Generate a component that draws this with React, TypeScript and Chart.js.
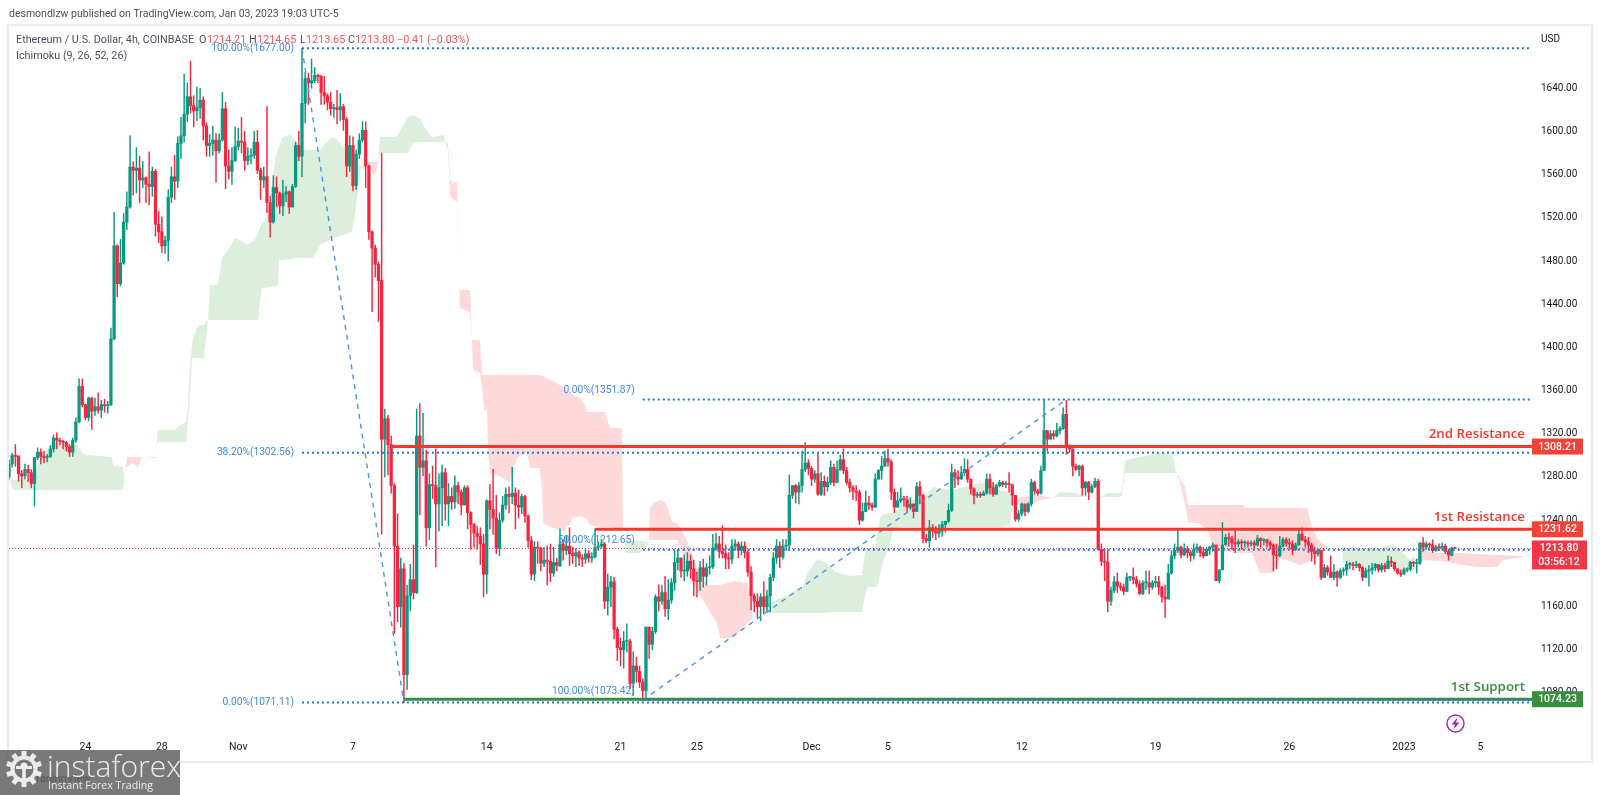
import React, { useEffect, useRef } from "react";
import { Chart, registerables } from "chart.js";

Chart.register(...registerables);

const firstOpen = 1280;
const closes = [
  1292,1300,1299,1283,1281,1287,1284,1274,1298,1303,
  1299,1298,1299,1306,1316,1314,1313,1312,1308,1303,
  1314,1331,1364,1347,1335,1353,1341,1345,1342,1347,
  1346,1347,1408,1494,1459,1478,1516,1530,1567,1564,
  1566,1555,1557,1551,1549,1563,1514,1507,1494,1499,
  1539,1558,1554,1589,1596,1616,1632,1624,1619,1622,
  1629,1605,1587,1589,1592,1582,1592,1621,1568,1563,
  1573,1586,1591,1590,1573,1577,1578,1590,1564,1555,
  1558,1534,1516,1548,1543,1531,1542,1544,1530,1549,
  1587,1577,1626,1649,1645,1647,1652,1651,1636,1633,
  1627,1621,1622,1620,1623,1611,1568,1587,1550,1579,
  1592,1601,1568,1507,1492,1477,1462,1315,1334,1310,
  1272,1216,1160,1195,1097,1170,1185,1173,1318,1289,
  1295,1233,1273,1272,1255,1270,1284,1255,1262,1257,
  1272,1266,1254,1270,1247,1236,1228,1225,1218,1190,
  1258,1250,1242,1214,1240,1254,1264,1262,1265,1254,
  1252,1262,1244,1221,1190,1215,1214,1200,1203,1202,
  1191,1201,1198,1218,1212,1216,1209,1207,1210,1205,
  1204,1209,1205,1206,1215,1216,1218,1165,1178,1183,
  1139,1122,1120,1128,1128,1089,1105,1100,1090,1082,
  1141,1125,1137,1169,1165,1173,1158,1166,1182,1201,
  1205,1193,1193,1202,1195,1184,1183,1196,1188,1196,
  1197,1214,1218,1211,1209,1205,1204,1216,1218,1212,
  1216,1210,1192,1170,1165,1160,1169,1160,1170,1187,
  1205,1216,1206,1216,1217,1263,1272,1266,1272,1287,
  1293,1288,1278,1283,1264,1276,1271,1275,1289,1275,
  1287,1296,1286,1275,1270,1267,1266,1240,1248,1256,
  1254,1252,1278,1286,1290,1297,1294,1266,1252,1258,
  1260,1259,1252,1255,1248,1271,1263,1223,1221,1233,
  1230,1228,1230,1236,1239,1249,1284,1280,1278,1284,
  1287,1278,1269,1263,1264,1263,1265,1278,1270,1264,
  1272,1275,1273,1274,1273,1263,1241,1246,1255,1248,
  1255,1275,1267,1265,1286,1323,1315,1320,1318,1323,
  1325,1338,1309,1306,1290,1287,1290,1270,1275,1266,
  1271,1276,1213,1202,1201,1165,1175,1183,1179,1178,
  1174,1187,1187,1185,1181,1172,1182,1182,1178,1182,
  1183,1178,1169,1167,1191,1207,1212,1215,1208,1213,
  1210,1207,1213,1215,1210,1207,1213,1215,1217,1184,
  1194,1217,1224,1223,1219,1218,1220,1219,1219,1218,
  1219,1217,1223,1221,1222,1219,1217,1208,1207,1216,
  1222,1219,1218,1213,1217,1227,1222,1220,1217,1211,
  1209,1212,1187,1196,1192,1187,1192,1187,1193,1194,
  1199,1199,1198,1199,1196,1187,1193,1194,1196,1199,
  1194,1198,1195,1202,1201,1195,1191,1190,1194,1195,
  1201,1200,1200,1219,1215,1218,1217,1212,1215,1214.7,
  1216,1211,1207.6,1214.21,1213.8,
];
const highs = [
  1296,1302,1310,1300,1286,1292,1291,1287,1298,1307,
  1306,1304,1301,1309,1319,1321,1316,1314,1313,1310,
  1316,1335,1371,1371,1347,1354,1354,1353,1358,1351,
  1352,1350,1418,1525,1495,1500,1524,1544,1596,1572,
  1585,1577,1572,1558,1581,1567,1565,1526,1521,1503,
  1546,1567,1578,1595,1613,1653,1645,1665,1633,1641,
  1640,1632,1608,1597,1605,1598,1598,1636,1627,1583,
  1585,1604,1603,1613,1600,1585,1584,1600,1601,1566,
  1567,1623,1540,1559,1558,1544,1555,1549,1545,1551,
  1590,1600,1677,1655,1654,1667,1659,1653,1652,1651,
  1635,1636,1625,1638,1635,1625,1613,1596,1595,1583,
  1598,1609,1609,1569,1508,1495,1479,1580,1343,1337,
  1318,1274,1246,1205,1200,1180,1199,1217,1343,1348,
  1339,1305,1283,1290,1306,1283,1291,1288,1274,1270,
  1281,1275,1268,1272,1272,1248,1237,1234,1233,1227,
  1259,1273,1287,1263,1247,1262,1270,1271,1289,1270,
  1268,1264,1263,1245,1225,1220,1220,1215,1215,1216,
  1218,1215,1205,1232,1222,1225,1233,1215,1214,1212,
  1208,1213,1212,1210,1232,1220,1222,1219,1190,1188,
  1187,1141,1131,1137,1144,1130,1118,1113,1105,1093,
  1141,1140,1141,1171,1180,1180,1188,1185,1186,1212,
  1213,1205,1208,1210,1208,1203,1192,1202,1204,1200,
  1207,1227,1228,1225,1235,1217,1210,1222,1222,1220,
  1220,1220,1212,1197,1172,1172,1172,1183,1175,1190,
  1210,1222,1220,1222,1222,1282,1272,1273,1275,1304,
  1312,1296,1290,1286,1301,1284,1281,1280,1295,1292,
  1295,1300,1306,1289,1278,1272,1272,1268,1256,1267,
  1262,1256,1283,1287,1299,1304,1306,1296,1269,1266,
  1270,1262,1262,1261,1255,1275,1276,1264,1227,1240,
  1236,1234,1236,1239,1239,1255,1292,1287,1286,1290,
  1297,1296,1278,1270,1266,1266,1267,1283,1283,1275,
  1273.5,1277,1276,1276,1284,1273,1263,1249,1256,1255,
  1256,1278,1276,1269,1290,1352,1323,1323,1323,1330,
  1327,1344,1351,1310,1306,1292,1291,1291,1276,1276,
  1273,1279,1278,1218,1213,1212,1178,1188,1191,1182,
  1181,1191,1188,1196,1188,1184,1184,1193,1193,1184,
  1188,1188,1179,1180,1199,1212,1218,1231,1216,1218,
  1216,1212,1218,1218,1216,1215,1215,1216,1219,1216,
  1194,1238,1227,1228,1225,1230,1222,1222,1221,1221,
  1221,1221,1226,1224,1223,1222,1221,1218,1218,1225,
  1224,1224,1223,1221,1219,1232,1233,1225,1224,1219,
  1215,1213,1212,1199,1198,1207,1199,1193,1195,1196,
  1202,1201,1201,1202,1200,1197,1196,1198,1200,1200,
  1199,1200,1200,1207,1206,1201,1195,1194,1196,1196,
  1202,1202,1204,1219,1224,1220,1219,1222,1217,1218,
  1219,1218,1213,1215,1214.65,
];
const lows = [
  1278,1289,1290,1276,1270,1278,1276,1270,1253,1296,
  1292,1293,1294,1298,1303,1306,1310,1306,1304,1299,
  1299,1312,1330,1345,1333,1332,1324,1337,1339,1335,
  1340,1339,1346,1407,1447,1457,1477,1509,1529,1541,
  1543,1534,1548,1534,1532,1540,1503,1497,1488,1487,
  1480,1534,1537,1548,1575,1590,1609,1617,1604,1610,
  1612,1592,1577,1577,1578,1553,1580,1591,1547,1556,
  1551,1572,1583,1580,1564,1569,1570,1575,1561,1537,
  1548,1525,1502,1515,1530,1524,1522,1535,1524,1530,
  1548,1573,1558,1608,1625,1640,1645,1645,1625,1625,
  1620,1615,1613,1607,1610,1601,1558,1563,1545,1546,
  1575,1590,1548,1500,1433,1465,1424,1227,1280,1282,
  1265,1135,1146,1141,1071,1083,1156,1167,1172,1245,
  1281,1216,1222,1260,1197,1230,1235,1240,1235,1250,
  1251,1255,1245,1254,1232,1213,1215,1213,1199,1169,
  1172,1232,1227,1209,1207,1238,1250,1247,1255,1232,
  1242,1246,1238,1215,1185,1184,1200,1193,1197,1180,
  1183,1188,1193,1197,1203,1208,1198,1200,1197,1198,
  1197,1200,1201,1201,1205,1212,1214,1158,1152,1160,
  1130,1110,1105,1103,1118,1084,1078,1090,1085,1073,
  1076,1112,1120,1135,1156,1162,1151,1148,1163,1175,
  1194,1187,1184,1188,1186,1170,1169,1175,1178,1180,
  1190,1195,1212,1205,1205,1195,1195,1200,1212,1205,
  1208,1205,1188,1157,1155,1150,1147,1153,1155,1155,
  1184,1200,1196,1204,1212,1212,1260,1256,1255,1266,
  1285,1282,1272,1275,1263,1263,1263,1267,1273,1272,
  1276,1286,1283,1273,1266,1259,1258,1236,1239,1252,
  1250,1249,1256,1278,1278,1290,1290,1259,1247,1252,
  1256,1253,1247,1250,1242,1248,1255,1219,1219,1215,
  1224,1222,1224,1225,1229,1238,1248,1270,1273,1278,
  1281,1275,1264,1255,1261,1261,1263,1264,1264,1262,
  1265,1271,1271,1270,1266,1254,1239,1239,1244,1244,
  1247,1253,1264,1263,1264,1286,1304,1315,1315,1317,
  1320,1324,1301,1303,1281,1286,1281,1263,1263,1259,
  1265,1270,1213,1198,1184,1155,1161,1173,1173,1175,
  1171,1174,1184,1181,1178,1171,1171,1176,1172,1176,
  1178,1171,1164,1150,1167,1190,1204,1210,1205,1207,
  1205,1202,1204,1210,1206,1205,1208,1208,1211,1184,
  1182,1194,1217,1216,1213,1210,1215,1213,1215,1215,
  1216,1214,1216,1215,1217,1215,1213,1193,1195,1206,
  1215,1216,1214,1208,1212,1217,1221,1215,1210,1202,
  1199,1207,1185,1187,1189,1187,1185,1179,1186,1189,
  1189,1195,1194,1196,1193,1184,1187,1179,1190,1193,
  1192,1192,1192,1195,1197,1193,1190,1188,1191,1192,
  1193,1197,1191,1199,1211,1213,1214,1210,1211,1212,
  1212,1209,1203,1207,1213.65,
];

const cloudIndex = [
  0,1.3,6.6,7.5,9.1,12.9,16,21.4,23.2,24.5,32.3,32.7,35.8,36.3,37,38.9,40.5,41.8,45.8,46.2,
  46.8,52.1,53.7,55.6,56.2,56.8,57.5,57.8,59.3,61.2,62.5,63.1,65.6,66.9,68.8,71,72.5,74.9,77.2,78.2,
  79.4,80.4,82,83.5,84.5,84.8,86,88.2,89.8,92.3,95.5,97.7,100.8,102.4,103.9,107.7,109.3,110.5,110.8,111.5,
  112.4,114.9,115.9,116.5,121.5,123.4,125.3,126.9,129,130.6,132.8,136.6,136.9,137.8,138.2,138.5,140.7,141.3,141.6,144.8,
  145.4,145.7,147.9,148.5,149.2,150.1,150.4,151,153.2,155.1,157.3,157.9,159.5,162.7,163.6,166.7,167.4,167.7,169.9,171.4,
  174.6,175.2,176.2,176.8,179.3,180.9,181.5,182.4,185.6,187.1,188.7,192.5,192.8,193.1,193.7,198.1,200.6,200.9,201.3,202.8,
  204.4,206,206.9,208.2,209.8,212.9,214.8,216,217.9,219.2,222.3,223.3,227.3,232,233,233.6,235.8,239,243,249.3,
  250.6,254,256.2,259.4,264.1,267.8,268.2,268.8,269.7,271.9,272.6,273.5,274.1,276.6,277.3,278.5,280.7,287.6,290.1,296.4,
  299.6,304.9,309.6,311.2,314.3,315.3,315.6,317.5,319,323.7,327.8,330,334.7,338.5,342.6,344.8,348.9,349.5,350.4,355.1,
  361.4,365.5,366.4,366.8,368.6,369.3,370.2,374,376.2,378.1,384.3,387.5,388.1,390.3,392.8,396.9,399.1,405.4,407.6,409.1,
  410.7,412.6,414.2,417.9,418.6,418.9,424.2,430.5,433,435.8,439.9,440.9,442.1,443,449.3,451.5,456.6,461,467.2,469.1,
  475.4,476,477.6,
];
const spanA = [
  1278.1,1277.2,1277.2,1279.9,1293.8,1309.6,1311.4,1309.6,1302.2,1300.3,1298.5,1290.1,1289.2,1279,1289.2,1292.9,1288.3,1298.5,1297.5,1303.1,
  1323.5,1323.5,1328.1,1330.9,1346.6,1383.6,1402.2,1409.6,1419.8,1420.7,1425.3,1457.7,1457.7,1483.6,1490.1,1501.2,1499.4,1494.8,1499.4,1506.8,
  1515.1,1517.9,1536.4,1573.5,1584.6,1586.4,1594.8,1596.6,1592,1582.7,1582.7,1582.7,1593.8,1593.8,1589.2,1576.2,1571.6,1567.9,1567,1564.2,
  1568.8,1558.6,1571.6,1594.8,1594.8,1603.1,1613.3,1615.1,1612.3,1603.1,1594.8,1596.6,1590.1,1582.7,1559.6,1539.2,1534.6,1459.6,1436.4,1432.7,
  1406.8,1379,1376.2,1365.1,1342,1342,1304.9,1283.6,1281.8,1279,1274.4,1283.6,1297.5,1303.1,1288.3,1288.3,1265.1,1237.4,1233.6,1232.7,
  1229,1233.6,1236.4,1242,1243.8,1242,1240.1,1235.5,1233.6,1233.6,1233.6,1230.9,1226.2,1225.3,1220.7,1220.7,1219.8,1220.7,1221.6,1221.6,
  1221.6,1221.6,1221.6,1221.6,1221.6,1198.5,1182.7,1175.3,1166,1159.6,1144.8,1130.9,1130.9,1144.8,1147.5,1150.3,1156.8,1163.3,1168.8,1178.1,
  1191.1,1204,1201.2,1192,1188.3,1189.2,1198.5,1209.6,1212.4,1214.2,1226.2,1242,1244.8,1246.6,1246.6,1247.5,1256.8,1261.4,1270.7,1267.9,
  1270.7,1274.4,1273.5,1267.9,1265.1,1255.9,1255,1253.1,1252.2,1258.6,1260.5,1266,1265.1,1261.4,1261.4,1265.1,1265.1,1267.9,1295.7,1298.5,
  1302.2,1300.3,1284.6,1283.6,1263.3,1254,1238.3,1236.4,1230.9,1215.1,1209.6,1209.6,1209.6,1209.6,1191.1,1191.1,1205,1198.5,1200.3,1203.1,
  1205.9,1209.6,1215.1,1215.1,1215.1,1215.1,1214.2,1214.2,1217,1215.1,1203.1,1206.8,1203.1,1203.1,1202.2,1201.3,1198.5,1196.6,1196.6,1203.1,
  1206,1206.8,1208.7,
];
const spanB = [
  1278.1,1267.9,1267.9,1267.9,1267.9,1267.9,1267.9,1267.9,1267.9,1267.9,1267.9,1267.9,1267.9,1279,1298.5,1298.5,1298.5,1298.5,1298.5,1303.1,
  1312.4,1312.4,1312.4,1312.4,1332.7,1355.9,1390.1,1390.1,1390.1,1390.1,1425.3,1425.3,1425.3,1425.3,1425.3,1425.3,1425.3,1425.3,1425.3,1425.3,
  1454.9,1454.9,1455.9,1456.8,1457.7,1480.9,1480.9,1481.8,1482.7,1482.7,1482.7,1494.8,1499.4,1502.2,1503.1,1506.8,1536.4,1566,1567,1571.6,
  1571.6,1571.6,1571.6,1579.9,1579.9,1579.9,1579.9,1590.1,1590.1,1590.1,1590.1,1590.1,1590.1,1589.2,1573.7,1554.9,1552.2,1459.6,1453.1,1453.1,
  1408.6,1406.8,1406.8,1374.4,1374.4,1374.4,1374.4,1374.4,1374.4,1374.4,1374.4,1374.4,1374.4,1374.4,1374.4,1374.4,1373.5,1373.5,1369.8,1367.9,
  1362.4,1358.6,1357.7,1356.8,1353.1,1346.6,1340.1,1340.1,1340.1,1340.1,1325.3,1325.3,1230.9,1225.3,1209.6,1209.6,1217,1220.7,1252.2,1256.8,
  1258.6,1256.8,1251.2,1238.3,1237.4,1221.6,1205.9,1195.7,1186.4,1180,1180,1180,1183.6,1181.8,1166,1150.3,1154,1154,1154,1154,
  1154,1154,1154,1154.9,1154.9,1154.9,1161.4,1170.7,1178.1,1178.1,1178.1,1189.2,1198.5,1217,1228.1,1232.7,1233.6,1233.6,1233.6,1233.6,
  1233.6,1233.6,1233.6,1233.6,1234.6,1254,1255,1261.4,1261.4,1263.3,1260.5,1261.4,1261.4,1261.4,1260.5,1261.4,1261.4,1263.3,1283.6,1283.6,
  1283.6,1283.6,1283.6,1283.6,1274.4,1270.7,1254,1254,1254,1254,1254,1254,1251.2,1251.2,1251.2,1251.2,1251.2,1251.2,1251.2,1233.6,
  1223.5,1217.9,1215.1,1214.2,1212.4,1200.3,1196.6,1196.6,1196.6,1195.7,1192,1192.9,1203.1,1212.4,1209.6,1209.6,1209.6,1208.7,1207.7,1207.7,
  1206.8,1206.8,1206,
];

const priceTicks = [1080,1120,1160,1200,1240,1280,1320,1360,1400,1440,1480,1520,1560,1600,1640];
const timeTickIndex = [24,48,72,108,150,192,216,252,276,318,360,402,438,462];
const timeTickLabels = ["24","28","Nov","7","14","21","25","Dec","5","12","19","26","2023","5"];

const fibLabels = ["100.00%(1677.00)","38.20%(1302.56)","0.00%(1071.11)","0.00%(1351.87)","50.00%(1212.65)","100.00%(1073.42)"];
const fibPrices = [1677,1302.56,1071.11,1351.87,1212.65,1073.42];
const fibStart = [92,92,92,199,199,199];
const fibLift = [0,0,0,9,9,9];

const trendStart = [92,199];
const trendEnd = [124,332];
const trendFrom = [1677,1073.42];
const trendTo = [1071.11,1351.87];

const levelNames = ["2nd Resistance","1st Resistance","1st Support"];
const levelPrices = [1308.21,1231.62,1074.23];
const levelStart = [120,184,124];
const levelColors = ["#f4372c","#f4372c","#388e3c"];
const levelBoxColors = ["#f44336","#f44336","#388e3c"];

const lastPrice = 1213.8;
const countdown = "03:56:12";
const legendParts = [
  ["Ethereum / U.S. Dollar, 4h, COINBASE", 16, "#4a4e5a"],
  ["O", 199, "#4a4e5a"], ["1214.21", 207, "#f7525f"],
  ["H", 249, "#4a4e5a"], ["1214.65", 257, "#f7525f"],
  ["L", 300, "#4a4e5a"], ["1213.65", 306, "#f7525f"],
  ["C", 348, "#4a4e5a"], ["1213.80", 355, "#f7525f"],
  ["\u22120.41 (\u22120.03%)", 397, "#f7525f"],
];

const XMIN = 0;
const XMAX = 478.2;
const UP = "#089981";
const DOWN = "#f7243f";
const SANS = "Roboto, 'Noto Sans', sans-serif";

const opens = closes.map((_, i) => (i === 0 ? firstOpen : closes[i - 1]));
const colors = closes.map((c, i) => (c >= opens[i] ? UP : DOWN));

const overlay = {
  id: "overlay",
  beforeDraw(chart: any) {
    const { ctx, width, height } = chart;
    ctx.save();
    ctx.fillStyle = "#fff";
    ctx.fillRect(0, 0, width, height);
    ctx.strokeStyle = "#ececef";
    ctx.lineWidth = 2;
    ctx.strokeRect(8, 25, 1584, 737);
    ctx.restore();
  },
  afterDraw(chart: any) {
    const { ctx, scales } = chart;
    const X = scales.x;
    const Y = scales.y;
    ctx.save();
    ctx.textBaseline = "middle";

    ctx.font = `10.5px ${SANS}`;
    ctx.fillStyle = "#4a4e5a";
    ctx.textAlign = "left";
    ctx.fillText("desmondlzw published on TradingView.com, Jan 03, 2023 19:03 UTC-5", 9, 14);

    ctx.font = `10.8px ${SANS}`;
    legendParts.forEach(([t, x, c]: any) => {
      ctx.fillStyle = c;
      ctx.fillText(t, x, 40);
    });
    ctx.fillStyle = "#4a4e5a";
    ctx.fillText("Ichimoku (9, 26, 52, 26)", 16, 56);
    ctx.font = `10px ${SANS}`;
    ctx.fillStyle = "#131722";
    ctx.fillText("USD", 1541, 39);

    ctx.font = `10.2px ${SANS}`;
    ctx.textAlign = "right";
    ctx.fillStyle = "#3f8ae0";
    fibLabels.forEach((t, i) => {
      ctx.fillText(t, X.getPixelForValue(fibStart[i]) - 8, Y.getPixelForValue(fibPrices[i]) - fibLift[i]);
    });

    ctx.font = `600 13.3px 'Open Sans', ${SANS}`;
    levelNames.forEach((t, i) => {
      ctx.fillStyle = levelColors[i];
      ctx.fillText(t, 1525, Y.getPixelForValue(levelPrices[i]) - 12.5);
    });

    ctx.textAlign = "center";
    ctx.font = `500 10.5px ${SANS}`;
    levelPrices.forEach((v, i) => {
      const y = Y.getPixelForValue(v);
      ctx.fillStyle = levelBoxColors[i];
      ctx.fillRect(1532, y - 8, 51, 16);
      ctx.fillStyle = "#fff";
      ctx.fillText(v.toFixed(2), 1557.5, y + 0.5);
    });
    const py = Y.getPixelForValue(lastPrice);
    ctx.fillStyle = "#f23645";
    ctx.fillRect(1532, py - 8, 55, 29);
    ctx.fillStyle = "#fff";
    ctx.fillText(lastPrice.toFixed(2), 1559, py);
    ctx.fillText(countdown, 1559, py + 14);

    // session-break icon
    ctx.strokeStyle = "#9c27b0";
    ctx.fillStyle = "#9c27b0";
    ctx.lineWidth = 1.4;
    ctx.beginPath();
    ctx.arc(1455.5, 723.5, 8.5, 0, Math.PI * 2);
    ctx.stroke();
    ctx.beginPath();
    ctx.moveTo(1457.5, 717.5);
    ctx.lineTo(1451.5, 724.5);
    ctx.lineTo(1455, 724.5);
    ctx.lineTo(1453.5, 729.5);
    ctx.lineTo(1459.5, 722.5);
    ctx.lineTo(1456, 722.5);
    ctx.closePath();
    ctx.fill();

    // publisher mark
    ctx.textAlign = "left";
    ctx.fillStyle = "#555";
    ctx.font = `11px ${SANS}`;
    ctx.fillText("TradingView", 30, 779);
    ctx.fillStyle = "rgba(88,88,88,0.8)";
    ctx.fillRect(0, 750, 180, 45);

    const gx = 24;
    const gy = 769;
    ctx.fillStyle = "#ececec";
    for (let k = 0; k < 10; k++) {
      const a = (k * Math.PI) / 5;
      ctx.save();
      ctx.translate(gx, gy);
      ctx.rotate(a);
      ctx.fillRect(-2.5, -18, 5, 7);
      ctx.restore();
    }
    ctx.beginPath();
    ctx.arc(gx, gy, 13.5, 0, Math.PI * 2);
    ctx.fill();
    ctx.fillStyle = "#777";
    ctx.beginPath();
    ctx.arc(gx, gy, 9.5, 0, Math.PI * 2);
    ctx.fill();
    ctx.fillStyle = "#ececec";
    ctx.beginPath();
    ctx.arc(gx, gy - 3, 3.5, 0, Math.PI * 2);
    ctx.fill();
    ctx.fillRect(gx - 1.8, gy - 3, 3.6, 13);
    ctx.fillRect(gx - 8, gy - 3, 16, 3);

    ctx.fillStyle = "#ececec";
    ctx.font = `300 30px 'Open Sans', ${SANS}`;
    ctx.fillText("instaforex", 47, 768);
    ctx.font = `10.6px 'Open Sans', ${SANS}`;
    ctx.fillText("Instant Forex Trading", 48, 786);
    ctx.restore();
  },
};

const lineBase = { type: "line", pointRadius: 0, pointHitRadius: 0, tension: 0, fill: false };

export default function App() {
  const ref = useRef<HTMLCanvasElement>(null);
  useEffect(() => {
    const index = closes.map((_, i) => i);
    const datasets: any[] = [];
    datasets.push({
      ...lineBase,
      data: cloudIndex.map((x, i) => ({ x, y: spanA[i] })),
      borderWidth: 0,
      borderColor: "transparent",
      fill: { target: 1, above: "#dcefdd", below: "#fdd9d9" },
      order: 100,
    });
    datasets.push({
      ...lineBase,
      data: cloudIndex.map((x, i) => ({ x, y: spanB[i] })),
      borderWidth: 0,
      borderColor: "transparent",
      order: 101,
    });
    datasets.push({
      type: "bar",
      data: index.map((i) => ({
        x: i,
        y: [Math.min(lows[i], opens[i], closes[i]), Math.max(highs[i], opens[i], closes[i])],
      })),
      backgroundColor: colors,
      barThickness: 0.8,
      grouped: false,
      order: 50,
    });
    datasets.push({
      type: "bar",
      data: index.map((i) => ({ x: i, y: [opens[i], closes[i]] })),
      backgroundColor: colors,
      barThickness: 2.6,
      minBarLength: 1,
      grouped: false,
      order: 40,
    });
    datasets.push({
      ...lineBase,
      data: [{ x: XMIN, y: lastPrice }, { x: XMAX, y: lastPrice }],
      borderColor: "#f23645",
      borderWidth: 1,
      borderDash: [1, 2],
      order: 30,
    });
    trendStart.forEach((s, i) => {
      datasets.push({
        ...lineBase,
        data: [{ x: s, y: trendFrom[i] }, { x: trendEnd[i], y: trendTo[i] }],
        borderColor: "#4a94e0",
        borderWidth: 1.4,
        borderDash: [5, 5],
        order: 20,
      });
    });
    levelPrices.forEach((v, i) => {
      datasets.push({
        ...lineBase,
        data: [{ x: levelStart[i], y: v }, { x: XMAX, y: v }],
        borderColor: levelColors[i],
        borderWidth: 3,
        order: 15,
      });
    });
    fibPrices.forEach((v, i) => {
      datasets.push({
        ...lineBase,
        data: [{ x: fibStart[i], y: v }, { x: 477.6, y: v }],
        borderColor: "#1e78dc",
        borderWidth: 2,
        borderDash: [2, 3],
        order: 10,
      });
    });

    const chart = new Chart(ref.current as HTMLCanvasElement, {
      type: "bar",
      data: { datasets },
      plugins: [overlay],
      options: {
        animation: false,
        responsive: false,
        devicePixelRatio: 1,
        layout: { padding: { left: 9, top: 26, right: 0, bottom: 33 } },
        plugins: { legend: { display: false }, tooltip: { enabled: false }, title: { display: false } },
        scales: {
          x: {
            type: "linear",
            offset: false,
            min: XMIN,
            max: XMAX,
            grid: { display: false, drawTicks: false, offset: false },
            border: { display: false },
            afterBuildTicks: (s: any) => {
              s.ticks = timeTickIndex.map((value) => ({ value }));
            },
            afterFit: (s: any) => {
              s.height = 27;
              s.paddingLeft = 0;
              s.paddingRight = 0;
            },
            ticks: {
              autoSkip: false,
              maxRotation: 0,
              padding: 6,
              color: "#131722",
              font: { family: SANS, size: 10.5 },
              callback: (v: any) => timeTickLabels[timeTickIndex.indexOf(Number(v))] ?? "",
            },
          },
          y: {
            type: "linear",
            position: "right",
            min: 1041.1,
            max: 1697.6,
            grid: { display: false, drawTicks: false },
            border: { display: false },
            afterBuildTicks: (s: any) => {
              s.ticks = priceTicks.map((value) => ({ value }));
            },
            afterFit: (s: any) => {
              s.width = 68;
              s.paddingTop = 0;
              s.paddingBottom = 0;
            },
            ticks: {
              autoSkip: false,
              padding: 9,
              color: "#131722",
              font: { family: SANS, size: 10 },
              callback: (v: any) => Number(v).toFixed(2),
            },
          },
        },
      } as any,
    } as any);
    return () => chart.destroy();
  }, []);
  return (
    <div style={{ position: "absolute", left: 0, top: 0, width: 1600, height: 795, background: "#fff" }}>
      <canvas ref={ref} width={1600} height={795} style={{ display: "block" }} />
    </div>
  );
}
